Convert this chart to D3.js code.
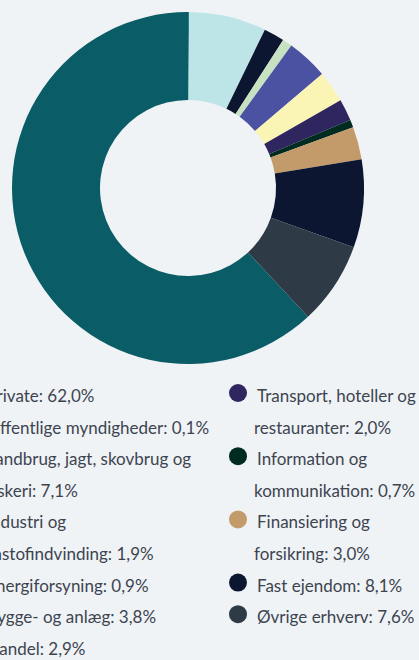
<!DOCTYPE html>
<html>
<head>
<meta charset="utf-8">
<script src="https://cdn.jsdelivr.net/npm/d3@7"></script>
<style>
	html, body { margin: 0; padding: 0; background: #eff3f6; overflow: hidden; }
	svg { display: block; }
	.legend text { font-family: Lato, sans-serif; font-size: 17px; fill: #3d4450; }
</style>
</head>
<body>
<svg id="chart" width="419" height="660"></svg>
<script>
const labels = [
	'Private', 'Offentlige myndigheder', 'Landbrug, jagt, skovbrug og fiskeri',
	'Industri og råstofindvinding', 'Energiforsyning', 'Bygge- og anlæg', 'Handel',
	'Transport, hoteller og restauranter', 'Information og kommunikation',
	'Finansiering og forsikring', 'Fast ejendom', 'Øvrige erhverv'
];
const values = [62.0, 0.1, 7.1, 1.9, 0.9, 3.8, 2.9, 2.0, 0.7, 3.0, 8.1, 7.6];
const colors = [
	'#0a5c66', '#2f7d84', '#bde4e7', '#0c1631', '#c6e2c1', '#4b52a2',
	'#fbf5b5', '#2f2660', '#002b20', '#c39b6b', '#0c1631', '#2e3a46'
];
// how many legend items go in the left column
const leftCount = 7;

const data = labels.map((l, i) => ({ label: l, value: values[i], color: colors[i] }));
const fmt = v => v.toFixed(1).replace('.', ',') + '%';

const svg = d3.select('#chart');
const cx = 188, cy = 188, outerR = 176, innerR = 88;

const total = d3.sum(values);
const start = -values[0] / total * Math.PI * 2;

const pie = d3.pie()
	.sort(null)
	.value(d => d.value)
	.startAngle(start)
	.endAngle(start + Math.PI * 2);

const arc = d3.arc().innerRadius(innerR).outerRadius(outerR);

svg.append('g')
	.attr('transform', `translate(${cx}, ${cy})`)
	.selectAll('path')
	.data(pie(data))
	.enter()
	.append('path')
	.attr('d', arc)
	.attr('fill', d => d.data.color);

// legend
const legend = svg.append('g').attr('class', 'legend');
const lineH = 31.6;
const legendTop = 402;
const cols = [
	{ x: -13.5, wrapX: -12.5, circle: -32, maxW: 235 },
	{ x: 257, wrapX: 254, circle: 238, maxW: 222 }
];

const rowCounter = [0, 0];
data.forEach((d, i) => {
	const c = i < leftCount ? 0 : 1;
	const col = cols[c];
	const y = legendTop + rowCounter[c] * lineH;
	legend.append('circle')
		.attr('cx', col.circle)
		.attr('cy', y - 9)
		.attr('r', 9)
		.attr('fill', d.color);

	// value sticks to the last word (non-breaking space)
	const words = d.label.split(' ');
	words[words.length - 1] += ':\u00a0' + fmt(d.value);
	let line = [];
	let lineNo = 0;
	let t = legend.append('text').attr('x', col.x).attr('y', y);
	words.forEach(w => {
		line.push(w);
		t.text(line.join(' '));
		if (t.node().getComputedTextLength() > col.maxW && line.length > 1) {
			line.pop();
			t.text(line.join(' '));
			line = [w];
			lineNo++;
			t = legend.append('text')
				.attr('x', col.wrapX)
				.attr('y', y + lineNo * lineH)
				.text(w);
		}
	});
	rowCounter[c] += lineNo + 1;
});
</script>
</body>
</html>
